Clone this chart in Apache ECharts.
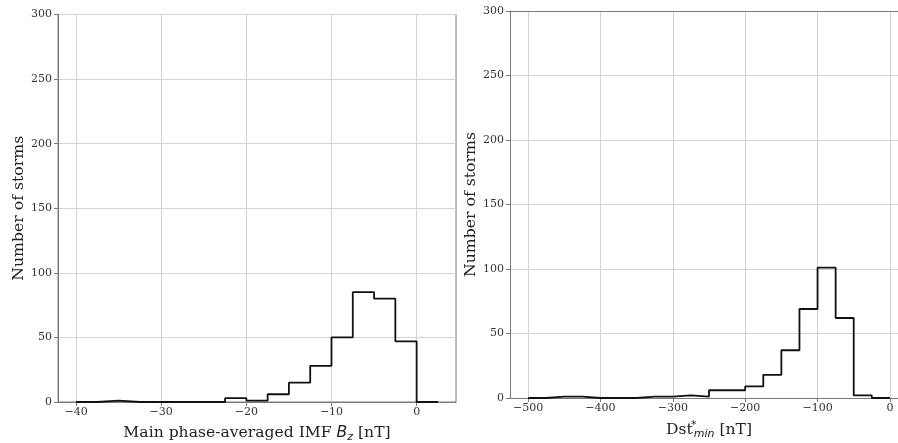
<!DOCTYPE html>
<html>
<head>
<meta charset="utf-8">
<script src="https://cdn.jsdelivr.net/npm/echarts@6/dist/echarts.min.js"></script>
<style>
html,body{margin:0;padding:0;background:#fff;overflow:hidden;}
#c{width:898px;height:443px;}
</style>
</head>
<body>
<div id="c"></div>
<script>
// Left panel: IMF Bz histogram (bin width 2.5 nT)
const bzEdges = [-40,-37.5,-35,-32.5,-30,-27.5,-25,-22.5,-20,-17.5,-15,-12.5,-10,-7.5,-5,-2.5,0,2.5];
const bzCounts = [0,1,0,0,0,0,0,3,1,6,15,28,50,85,80,47,0];
const bzTicks = [-40,-30,-20,-10,0];

// Right panel: Dst*min histogram (bin width 25 nT)
const dstEdges = [-500,-475,-450,-425,-400,-375,-350,-325,-300,-275,-250,-225,-200,-175,-150,-125,-100,-75,-50,-25,0];
const dstCounts = [0,1,1,0,0,0,1,1,2,1,6,6,9,18,37,69,101,62,2,0];
const dstTicks = [-500,-400,-300,-200,-100,0];

const yTicks = [0,50,100,150,200,250,300];

function stepData(edges, counts){
  const d = [[edges[0], 0]];
  for (let i = 0; i < counts.length; i++) d.push([edges[i], counts[i]]);
  d.push([edges[edges.length-1], counts[counts.length-1]]);
  d.push([edges[edges.length-1], 0]);
  return d;
}

const FONT = 'DejaVu Serif';
const axisCol = '#7a7a7a';
const gridCol = '#d3d3d3';
const minusFmt = v => String(v).replace('-', '\u2212');

function xAxisCfg(idx, min, max, ticks, name, rich, gap){
  return {
    type:'value', gridIndex: idx, min: min, max: max,
    axisLine:{show:true, onZero:false, lineStyle:{color:axisCol, width:1}},
    axisTick:{show:true, length:4, lineStyle:{color:axisCol}, customValues: ticks},
    axisLabel:{customValues: ticks, formatter: minusFmt, fontFamily: FONT, fontSize: 11, color:'#333', margin:5},
    splitLine:{show:true, lineStyle:{color:gridCol, width:1}},
    name: name, nameLocation:'middle', nameGap: gap,
    nameTextStyle:{fontFamily: FONT, fontSize: 15.6, color:'#222', rich: rich}
  };
}
function yAxisCfg(idx, gap){
  return {
    type:'value', gridIndex: idx, min: 0, max: 300, interval: 50,
    axisLine:{show:true, onZero:false, lineStyle:{color:axisCol, width:1}},
    axisTick:{show:true, length:4, lineStyle:{color:axisCol}},
    axisLabel:{fontFamily: FONT, fontSize: 11, color:'#333', margin:6},
    splitLine:{show:true, lineStyle:{color:gridCol, width:1}},
    name:'Number of storms', nameLocation:'middle', nameGap: gap, nameRotate: 90,
    nameTextStyle:{fontFamily: FONT, fontSize: 15.7, color:'#222'}
  };
}

const richBz = {
  n:{fontFamily: FONT, fontSize: 15.6, color:'#222', lineHeight: 20},
  i:{fontFamily:'DejaVu Sans', fontStyle:'italic', fontSize: 15.6, color:'#222', lineHeight: 20},
  s:{fontFamily:'DejaVu Sans', fontStyle:'italic', fontSize: 11, color:'#222', verticalAlign:'bottom', lineHeight: 11}
};
const richDst = {
  n:{fontFamily: FONT, fontSize: 15.6, color:'#222', lineHeight: 20},
  sup:{fontFamily:'DejaVu Sans', fontSize: 11, color:'#222', verticalAlign:'top', lineHeight: 11, width: 0, align:'left', padding:[0,0,0,1]},
  sub:{fontFamily:'DejaVu Sans', fontStyle:'italic', fontSize: 11, color:'#222', verticalAlign:'bottom', lineHeight: 11}
};

const chart = echarts.init(document.getElementById('c'), null, {renderer:'canvas'});
chart.setOption({
  animation:false,
  backgroundColor:'#ffffff',
  grid:[
    {left:58, top:14.5, width:398, height:387.5, show:true, borderColor:axisCol, borderWidth:1, backgroundColor:'transparent', outerBoundsMode:'none', containLabel:false},
    {left:510, top:11, width:398, height:387, show:false, outerBoundsMode:'none', containLabel:false}
  ],
  xAxis:[
    xAxisCfg(0, -42.125, 4.625, bzTicks, '{n|Main phase-averaged IMF }{i|B}{s|z}{n| [nT]}', richBz, 21),
    xAxisCfg(1, -525, 25, dstTicks, '{n|Dst}{sup|*}{sub|min}{n| [nT]}', richDst, 22),
    {type:'value', gridIndex:1, position:'top', min:-525, max:25,
     axisLine:{show:true, onZero:false, lineStyle:{color:axisCol, width:1}},
     axisTick:{show:false}, axisLabel:{show:false}, splitLine:{show:false}}
  ],
  yAxis:[ yAxisCfg(0, 30), yAxisCfg(1, 31) ],
  series:[
    {type:'line', xAxisIndex:0, yAxisIndex:0, data: stepData(bzEdges, bzCounts), step:'end', showSymbol:false, symbol:'none',
     lineStyle:{color:'#111', width:1.8}, z:5},
    {type:'line', xAxisIndex:1, yAxisIndex:1, data: stepData(dstEdges, dstCounts), step:'end', showSymbol:false, symbol:'none',
     lineStyle:{color:'#111', width:1.8}, z:5}
  ]
});
</script>
</body>
</html>
